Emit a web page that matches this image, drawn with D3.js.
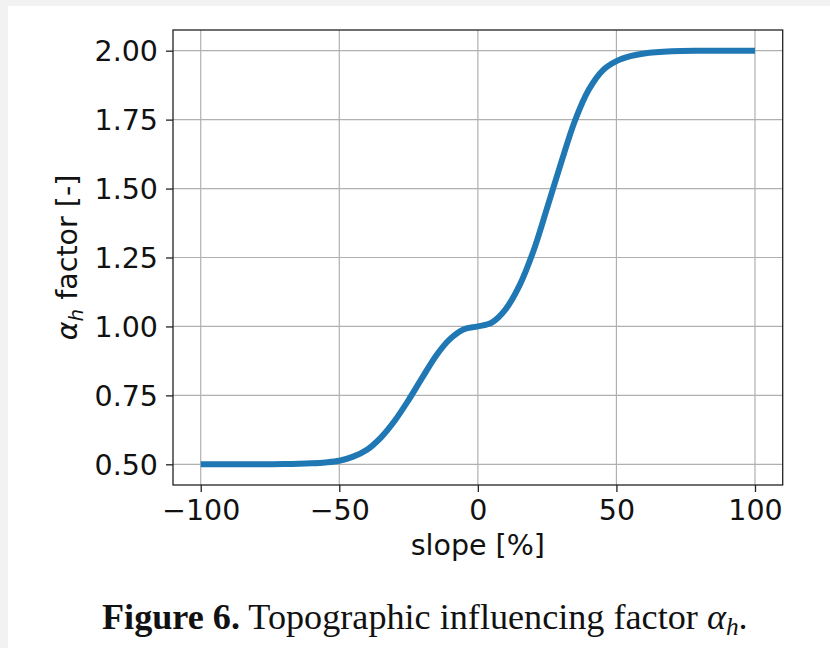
<!DOCTYPE html>
<html>
<head>
<meta charset="utf-8">
<script src="https://cdn.jsdelivr.net/npm/d3@7"></script>
<style>
  html, body { margin: 0; padding: 0; background: #f2f2f2; }
  svg { display: block; }
</style>
</head>
<body>
<svg id="chart" width="830" height="648"></svg>
<script>
// Topographic influencing factor alpha_h as a function of slope
const slope = [-100, -90, -80, -70, -60, -55, -50, -45, -40, -35, -30, -25, -20, -15, -10, -5,
               0, 5, 10, 15, 20, 25, 30, 35, 40, 45, 50, 55, 60, 70, 80, 90, 100];
const alphaH = [0.500, 0.500, 0.500, 0.501, 0.504, 0.507, 0.513, 0.528, 0.553, 0.597, 0.658, 0.733,
                0.815, 0.895, 0.955, 0.990, 1.000, 1.014, 1.062, 1.148, 1.272, 1.430, 1.592, 1.745,
                1.858, 1.928, 1.962, 1.980, 1.990, 1.998, 2.000, 2.000, 2.000];
const xTicks = [-100, -50, 0, 50, 100];
const yTicks = [0.50, 0.75, 1.00, 1.25, 1.50, 1.75, 2.00];

(function () {
const svg = d3.select("#chart");

// white page area
svg.append("rect").attr("x", 8).attr("y", 6).attr("width", 822).attr("height", 642).attr("fill", "#fff");

const plotL = 173, plotR = 782.7, plotT = 30, plotB = 485;
const x = d3.scaleLinear().domain([-110, 110]).range([plotL, plotR]);
const y = d3.scaleLinear().domain([0.425, 2.075]).range([plotB, plotT]);

const font = "DejaVu Sans, sans-serif";
const fs = 28.5;

// grid
const grid = svg.append("g").attr("stroke", "#b0b0b0").attr("stroke-width", 1.2);
grid.selectAll("line.gx").data(xTicks).join("line").attr("class", "gx")
  .attr("x1", d => x(d)).attr("x2", d => x(d)).attr("y1", plotT).attr("y2", plotB);
grid.selectAll("line.gy").data(yTicks).join("line").attr("class", "gy")
  .attr("y1", d => y(d)).attr("y2", d => y(d)).attr("x1", plotL).attr("x2", plotR);

// curve
const line = d3.line().x((d, i) => x(slope[i])).y(d => y(d)).curve(d3.curveCatmullRom.alpha(0.5));
svg.append("path").datum(alphaH)
  .attr("d", line)
  .attr("fill", "none")
  .attr("stroke", "#1f77b4")
  .attr("stroke-width", 6)
  .attr("stroke-linecap", "butt");

// axes
const fmtX = d => (d < 0 ? "\u2212" + Math.abs(d) : String(d));
const xAxis = d3.axisBottom(x).tickValues(xTicks).tickFormat(fmtX).tickSize(7).tickPadding(6);
const yAxis = d3.axisLeft(y).tickValues(yTicks).tickFormat(d3.format(".2f")).tickSize(7).tickPadding(8);

const gx = svg.append("g").attr("transform", `translate(0,${plotB})`).call(xAxis);
const gy = svg.append("g").attr("transform", `translate(${plotL},0)`).call(yAxis);
[gx, gy].forEach(g => {
  g.select(".domain").remove();
  g.selectAll(".tick line").attr("stroke", "#222").attr("stroke-width", 1.3);
  g.selectAll(".tick text").attr("fill", "#111").style("font-family", font).style("font-size", fs + "px");
});
gy.selectAll(".tick text").attr("dy", "0.36em");
gx.selectAll(".tick text").attr("dy", "0.76em");

// frame
svg.append("rect").attr("x", plotL).attr("y", plotT).attr("width", plotR - plotL).attr("height", plotB - plotT)
  .attr("fill", "none").attr("stroke", "#222").attr("stroke-width", 1.3);

// axis labels
svg.append("text").attr("x", (plotL + plotR) / 2).attr("y", 555)
  .attr("text-anchor", "middle").attr("fill", "#111")
  .style("font-family", font).style("font-size", fs + "px")
  .text("slope [%]");

const yl = svg.append("text")
  .attr("transform", `translate(77,${(plotT + plotB) / 2}) rotate(-90)`)
  .attr("text-anchor", "middle").attr("fill", "#111")
  .style("font-family", font).style("font-size", fs + "px");
yl.append("tspan").style("font-style", "italic").text("\u03b1");
yl.append("tspan").style("font-style", "italic").style("font-size", (fs * 0.7) + "px").attr("dy", 6).text("h");
yl.append("tspan").attr("dy", -6).text(" factor [-]");

// caption
const cap = svg.append("text").attr("x", 102).attr("y", 629).attr("fill", "#111")
  .style("font-family", "Liberation Serif, Times New Roman, serif").style("font-size", "31px");
cap.append("tspan").style("font-weight", "bold").text("Figure 6.");
cap.append("tspan").text(" Topographic influencing factor ");
cap.append("tspan").style("font-style", "italic").text("\u03b1");
const sub = cap.append("tspan").style("font-style", "italic").style("font-size", "22px").attr("dy", 6).text("h");
cap.append("tspan").attr("dy", -6).text(".");
// fit caption to its column width
const w = cap.node().getComputedTextLength();
const target = 646;
if (w > 0) {
  const s = 31 * target / w;
  cap.style("font-size", s + "px");
  sub.style("font-size", (s * 0.7) + "px");
}
})();
</script>
</body>
</html>
